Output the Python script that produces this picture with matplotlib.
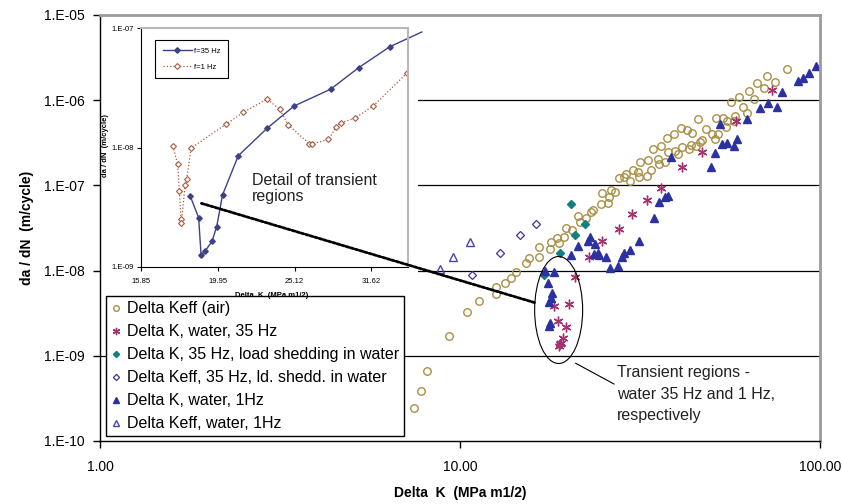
import matplotlib.pyplot as plt
from matplotlib.patches import Ellipse, Rectangle, ConnectionPatch
from matplotlib.ticker import NullLocator

plt.rcParams['font.family'] = ['Liberation Sans', 'DejaVu Sans']

# ---- data ----
air_dk = [7.45, 7.78, 8.11, 9.30, 10.46, 11.31, 12.59, 12.59, 13.36, 13.83, 14.30, 15.22, 15.55,
          16.55, 16.55, 17.75, 17.86, 18.56, 18.87, 19.45, 19.66, 20.51, 21.23, 21.54, 22.43, 23.11,
          23.46, 24.60, 25.77, 25.88, 24.81, 26.21, 26.99, 27.70, 28.54, 28.85, 29.72, 30.29, 31.28,
          31.36, 33.00, 33.99, 31.68, 33.21, 35.48, 35.71, 37.10, 34.43, 36.10, 37.76, 39.63, 40.32,
          41.37, 43.18, 43.74, 45.15, 37.52, 39.30, 41.03, 42.72, 44.10, 45.91, 46.50, 46.92, 48.13,
          50.12, 51.00, 51.99, 51.52, 53.88, 55.17, 54.82, 57.80, 58.18, 56.60, 59.46, 61.23, 62.83,
          63.39, 65.44, 66.72, 69.90, 71.11, 74.99, 80.96]
air_dadn = [2.46e-10, 3.86e-10, 6.64e-10, 1.72e-9, 3.24e-9, 4.43e-9, 5.31e-9, 6.37e-9, 7.21e-9,
            8.26e-9, 9.71e-9, 1.22e-8, 1.39e-8, 1.46e-8, 1.91e-8, 1.79e-8, 2.18e-8, 2.39e-8, 2.12e-8,
            2.50e-8, 3.19e-8, 3.00e-8, 4.37e-8, 3.75e-8, 4.11e-8, 4.91e-8, 5.14e-8, 6.05e-8, 6.17e-8,
            7.37e-8, 8.21e-8, 8.91e-8, 8.43e-8, 1.22e-7, 1.26e-7, 1.36e-7, 1.14e-7, 1.52e-7, 1.45e-7,
            1.26e-7, 1.30e-7, 1.52e-7, 1.87e-7, 1.99e-7, 2.04e-7, 1.78e-7, 1.87e-7, 2.67e-7, 2.90e-7,
            2.45e-7, 2.55e-7, 2.36e-7, 2.80e-7, 2.70e-7, 2.98e-7, 2.92e-7, 3.57e-7, 3.98e-7, 4.75e-7,
            4.47e-7, 4.16e-7, 5.97e-7, 3.26e-7, 3.38e-7, 4.59e-7, 4.05e-7, 3.48e-7, 3.98e-7, 6.23e-7,
            6.18e-7, 5.70e-7, 4.89e-7, 5.70e-7, 6.53e-7, 9.45e-7, 1.09e-6, 8.39e-7, 7.14e-7, 1.27e-6,
            1.04e-6, 1.60e-6, 1.38e-6, 1.92e-6, 1.65e-6, 2.32e-6]

w35_dk = [73.7, 58.55, 47.0, 41.29, 36.10, 33.0, 30.10, 27.65, 24.76, 22.86, 20.91,
          18.24, 20.04, 18.68, 19.66, 19.36, 19.12, 18.87, 18.95]
w35_dadn = [1.32e-6, 5.70e-7, 2.45e-7, 1.63e-7, 9.25e-8, 6.74e-8, 4.58e-8, 3.05e-8, 2.21e-8,
            1.44e-8, 8.34e-9, 3.84e-9, 4.02e-9, 2.58e-9, 2.20e-9, 1.63e-9, 1.40e-9, 1.30e-9, 1.36e-9]

shed_dk = [20.30, 22.24, 20.91, 18.96, 17.12]
shed_dadn = [6.0e-8, 3.52e-8, 2.60e-8, 1.62e-8, 8.81e-9]

shed_keff_dk = [16.29, 14.65, 12.94, 10.82]
shed_keff_dadn = [3.52e-8, 2.62e-8, 1.62e-8, 8.88e-9]

w1_dk = [97.3, 93.2, 89.9, 86.7, 78.3, 75.8, 71.8, 68.1, 62.6, 58.8, 57.6, 55.3, 53.5, 52.6,
         51.0, 49.7, 38.6, 37.9, 37.1, 35.7, 34.6, 31.4, 29.7, 28.5, 28.1, 27.4, 26.1, 25.4,
         24.4, 24.1, 23.5, 23.7, 22.7, 22.9, 21.3, 20.3, 18.24, 17.26, 17.56, 18.05, 17.86,
         17.64, 17.78, 17.64]
w1_dadn = [2.52e-6, 2.10e-6, 1.81e-6, 1.69e-6, 1.24e-6, 8.39e-7, 9.35e-7, 8.17e-7, 5.97e-7,
           3.48e-7, 2.90e-7, 3.12e-7, 3.03e-7, 5.26e-7, 2.38e-7, 1.66e-7, 2.17e-7, 7.57e-8,
           7.37e-8, 6.38e-8, 4.11e-8, 2.21e-8, 1.75e-8, 1.60e-8, 1.43e-8, 1.14e-8, 1.06e-8,
           1.43e-8, 1.54e-8, 1.60e-8, 1.57e-8, 2.05e-8, 2.21e-8, 2.50e-8, 1.95e-8, 1.54e-8,
           9.71e-9, 9.97e-9, 7.10e-9, 5.42e-9, 4.73e-9, 4.25e-9, 2.41e-9, 2.24e-9]

w1_keff_dk = [10.66, 9.54, 8.82]
w1_keff_dadn = [2.18e-8, 1.46e-8, 1.05e-8]

# inset: transient regions
f35_dk = [18.37, 18.84, 18.98, 19.22, 19.61, 19.89, 20.24, 21.22, 23.16, 25.09, 27.98, 30.44, 33.43, 36.79]
f35_dadn = [3.92e-9, 2.58e-9, 1.25e-9, 1.36e-9, 1.63e-9, 2.17e-9, 4.0e-9, 8.53e-9, 1.46e-8,
            2.23e-8, 3.08e-8, 4.67e-8, 7.01e-8, 9.31e-8]
f1_dk = [17.44, 17.69, 17.78, 17.87, 17.89, 18.09, 18.18, 18.42, 20.46, 21.54, 23.13, 24.03,
         24.64, 26.23, 26.47, 27.81, 28.47, 28.84, 30.15, 31.83, 35.16]
f1_dadn = [1.03e-8, 7.23e-9, 4.34e-9, 2.51e-9, 2.31e-9, 4.85e-9, 5.44e-9, 9.9e-9, 1.57e-8,
           1.97e-8, 2.55e-8, 2.09e-8, 1.55e-8, 1.08e-8, 1.07e-8, 1.17e-8, 1.49e-8, 1.61e-8,
           1.77e-8, 2.24e-8, 4.19e-8]

x_ticks = [1, 10, 100]
x_tick_labels = ['1.00', '10.00', '100.00']
y_ticks = [1e-10, 1e-9, 1e-8, 1e-7, 1e-6, 1e-5]
y_tick_labels = ['1.E-10', '1.E-09', '1.E-08', '1.E-07', '1.E-06', '1.E-05']

in_x_ticks = [15.85, 19.95, 25.12, 31.62]
in_x_tick_labels = ['15.85', '19.95', '25.12', '31.62']
in_y_ticks = [1e-9, 1e-8, 1e-7]
in_y_tick_labels = ['1.E-09', '1.E-08', '1.E-07']

c_air = '#a88f45'
c_w35 = '#a3326e'
c_shed = '#11807f'
c_navy = '#3a3a92'
c_tri = '#2c31a0'
c_f35 = '#3d4186'
c_f1 = '#a55a3e'

W, H = 842, 504
fig = plt.figure(figsize=(W / 100, H / 100), dpi=100)

# ---- main chart ----
ax = fig.add_axes([100 / W, 1 - 441 / H, 720 / W, 426 / H])
ax.set_xscale('log')
ax.set_yscale('log')
ax.set_xlim(1, 100)
ax.set_ylim(1e-10, 1e-5)
ax.set_xticks(x_ticks)
ax.set_xticklabels(x_tick_labels)
ax.set_yticks(y_ticks)
ax.set_yticklabels(y_tick_labels)
ax.xaxis.set_minor_locator(NullLocator())
ax.yaxis.set_minor_locator(NullLocator())
ax.tick_params(direction='out', length=5, width=1, labelsize=10, colors='black')
ax.tick_params(axis='x', pad=9)
ax.tick_params(axis='y', pad=6)
for yv in y_ticks[1:-1]:
    ax.axhline(yv, color='black', lw=0.9, zorder=0.5)
for s in ['top', 'right']:
    ax.spines[s].set_color('#9c9c9c')
    ax.spines[s].set_linewidth(2)
for s in ['left', 'bottom']:
    ax.spines[s].set_linewidth(1)

ax.plot(air_dk, air_dadn, 'o', ls='none', ms=5.4, mfc='none', mec=c_air, mew=1.0,
        label='Delta Keff (air)')
ax.plot(w35_dk, w35_dadn, ls='none', marker=(6, 2, 0), ms=7, mec=c_w35, mew=1.0,
        label='Delta K, water, 35 Hz')
ax.plot(shed_dk, shed_dadn, 'D', ls='none', ms=4.2, mfc=c_shed, mec=c_shed,
        label='Delta K, 35 Hz, load shedding in water')
ax.plot(shed_keff_dk, shed_keff_dadn, 'D', ls='none', ms=4.2, mfc='none', mec=c_navy, mew=0.9,
        label='Delta Keff, 35 Hz, ld. shedd. in water')
ax.plot(w1_dk, w1_dadn, '^', ls='none', ms=6, mfc=c_tri, mec=c_tri,
        label='Delta K, water, 1Hz')
ax.plot(w1_keff_dk, w1_keff_dadn, '^', ls='none', ms=6, mfc='none', mec='#4747b0', mew=1.0,
        label='Delta Keff, water, 1Hz')

ax.set_xlabel('Delta  K  (MPa m1/2)', fontsize=10, fontweight='bold')
ax.xaxis.set_label_coords(0.5, -0.106)
ax.set_ylabel('da / dN  (m/cycle)', fontsize=10, fontweight='bold')
ax.yaxis.set_label_coords(-0.092, 0.5)

leg = ax.legend(loc='lower left', bbox_to_anchor=(0.008, 0.012), borderaxespad=0,
                fontsize=11.5, fancybox=False, edgecolor='black', framealpha=1,
                handlelength=0.7, handletextpad=0.35, labelspacing=0.5, borderpad=0.3,
                markerscale=0.75)
leg.get_frame().set_linewidth(1)

# white area behind the inset
ax.add_patch(Rectangle((0.0014, 1 - (294 - 15) / 426), (418 - 101) / 720, (294 - 16) / 426,
                       transform=ax.transAxes, facecolor='white', edgecolor='none', zorder=1))

# transient region ellipse and note
ax.add_patch(Ellipse((0.637, 0.3075), 48 / 720, 107 / 426, transform=ax.transAxes,
                     fill=False, edgecolor='black', lw=0.8, zorder=4))
ax.plot([0.6607, 0.7139], [0.1824, 0.1338], transform=ax.transAxes, color='black', lw=0.8)
ax.text(0.7185, 0.178, 'Transient regions -\nwater 35 Hz and 1 Hz,\nrespectively',
        transform=ax.transAxes, fontsize=11.5, va='top', ha='left', linespacing=1.55,
        color='#222222')

# ---- inset ----
axin = fig.add_axes([141 / W, 1 - 266.7 / H, 267 / W, 238.4 / H], zorder=3)
axin.set_xscale('log')
axin.set_yscale('log')
axin.set_xlim(15.85, 35.3)
axin.set_ylim(1e-9, 1e-7)
axin.set_xticks(in_x_ticks)
axin.set_xticklabels(in_x_tick_labels)
axin.set_yticks(in_y_ticks)
axin.set_yticklabels(in_y_tick_labels)
axin.xaxis.set_minor_locator(NullLocator())
axin.yaxis.set_minor_locator(NullLocator())
axin.tick_params(direction='out', length=3, width=0.8, labelsize=5.5)
axin.tick_params(axis='x', pad=5)
axin.tick_params(axis='y', pad=2)
for s in ['top', 'right']:
    axin.spines[s].set_color('#b8b8b8')
    axin.spines[s].set_linewidth(1.5)
for s in ['left', 'bottom']:
    axin.spines[s].set_linewidth(0.8)

axin.plot(f35_dk, f35_dadn, '-', color=c_f35, lw=1.0, marker='D', ms=2.8, mfc=c_f35, mec=c_f35,
          markevery=list(range(len(f35_dk) - 1)), clip_on=False, label='f=35 Hz')
axin.plot(f1_dk, f1_dadn, ':', color=c_f1, lw=0.9, marker='D', ms=3, mfc='white', mec=c_f1,
          mew=0.8, label='f=1 Hz')

axin.set_xlabel('Delta  K  (MPa m1/2)', fontsize=5.5, fontweight='bold')
axin.xaxis.set_label_coords(0.49, -0.105)
axin.set_ylabel('da / dN  (m/cycle)', fontsize=5.5, fontweight='bold')
axin.yaxis.set_label_coords(-0.118, 0.51)

lin = axin.legend(loc='upper left', bbox_to_anchor=(0.052, 0.951), borderaxespad=0,
                  fontsize=5.5, fancybox=False, edgecolor='black', framealpha=1,
                  handlelength=3.8, handletextpad=0.3, labelspacing=1.1, borderpad=1.0)
lin.get_frame().set_linewidth(0.8)

axin.text(0.4146, 0.395, 'Detail of transient\nregions', transform=axin.transAxes,
          fontsize=11.5, va='top', ha='left', linespacing=1.12, color='#222222')

# link from inset to transient region
con = ConnectionPatch(xyA=(19.0, 3.4e-9), coordsA='data', axesA=axin,
                      xyB=(16.15, 4.2e-9), coordsB='data', axesB=ax,
                      color='black', lw=2.0, linestyle=(0, (1, 0.7)))
con.set_zorder(10)
fig.add_artist(con)

fig.savefig('out.png', dpi=100)
